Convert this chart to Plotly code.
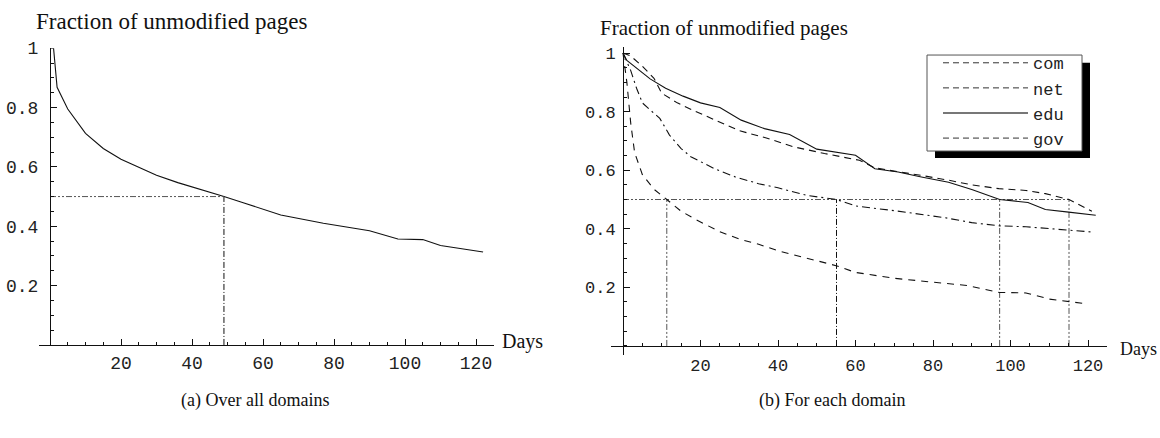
import plotly.graph_objects as go

W, H = 1160, 438

# ---------------- data ----------------
days_all = [0, 1, 2, 5, 10, 15, 20, 24, 30, 36, 44, 49, 54, 65, 77, 90, 98, 105, 110, 122]
frac_all = [1.0, 1.0, 0.868, 0.795, 0.713, 0.662, 0.626, 0.604, 0.572, 0.547, 0.519, 0.5,
            0.481, 0.438, 0.410, 0.385, 0.357, 0.355, 0.335, 0.313]
half_all = 49

com_days = [0, 1, 2, 3, 5, 8, 11.3, 15, 19, 25, 30, 35, 40, 45, 49, 55, 60, 65, 70, 76,
            83, 89, 97, 102, 104, 110, 115, 120]
com_frac = [1.0, 0.9, 0.76, 0.66, 0.585, 0.535, 0.5, 0.46, 0.43, 0.39, 0.365, 0.347, 0.325,
            0.308, 0.296, 0.274, 0.251, 0.242, 0.231, 0.223, 0.214, 0.206, 0.183, 0.180,
            0.181, 0.160, 0.152, 0.143]

net_days = [0, 2, 3.5, 5, 7, 9.5, 12, 15, 17.5, 20, 23.5, 29, 35, 40, 47.5, 55.1, 60, 70.5,
            79.5, 83, 90, 97.2, 104, 110, 115, 121]
net_frac = [1.0, 0.94, 0.88, 0.83, 0.806, 0.777, 0.72, 0.674, 0.646, 0.629, 0.606, 0.577,
            0.554, 0.54, 0.514, 0.5, 0.478, 0.461, 0.444, 0.438, 0.421, 0.41, 0.407, 0.401,
            0.396, 0.389]

edu_days = [0, 1, 7, 11, 15.5, 20, 25, 30.5, 36.5, 43, 50, 60, 65, 71, 77, 84, 90, 97.2,
            104.5, 109, 115, 122]
edu_frac = [1.0, 0.975, 0.912, 0.88, 0.853, 0.83, 0.814, 0.771, 0.742, 0.722, 0.672, 0.651,
            0.605, 0.594, 0.577, 0.559, 0.534, 0.5, 0.49, 0.466, 0.457, 0.446]

gov_days = [0, 2, 5, 8, 10, 14, 18, 24, 30, 37, 44, 52, 61, 65, 72, 78, 84, 90, 97, 104,
            109, 115.1, 121]
gov_frac = [1.0, 0.99, 0.955, 0.914, 0.863, 0.83, 0.805, 0.77, 0.735, 0.71, 0.68, 0.657,
            0.634, 0.608, 0.594, 0.58, 0.566, 0.55, 0.537, 0.531, 0.52, 0.5, 0.46]

domains = ["com", "net", "edu", "gov"]
half_days = [11.3, 55.1, 97.2, 115.1]

x_ticks = [20, 40, 60, 80, 100, 120]
y_ticks = [0.2, 0.4, 0.6, 0.8, 1.0]
y_labels = ["0.2", "0.4", "0.6", "0.8", "1"]

# ---------------- layout helpers (pixel geometry) ----------------
def fx(p):
    return p / W


def fy(p):
    return 1 - p / H


L0, LS = 50, 3.55      # left: px of day 0, px per day
LY0, LY1 = 343, 40     # left: px of value 0 and value 1
R0, RS = 623, 3.875    # right
RY0, RY1 = 344, 45
RYU = RY0 - RY1

MONO = "Liberation Mono"
SERIF = "Liberation Serif"
INK = "#111"
GREY = "#555"

fig = go.Figure()

line_w = 1.1

# ---- left panel ----
fig.add_trace(go.Scatter(x=days_all, y=frac_all, mode="lines", xaxis="x", yaxis="y",
                         line=dict(color=INK, width=line_w), showlegend=False,
                         cliponaxis=False))
fig.add_trace(go.Scatter(x=[0, half_all], y=[0.5, 0.5], mode="lines", xaxis="x", yaxis="y",
                         line=dict(color=GREY, width=1, dash="6px,2px,2px,2px,2px,2px"),
                         showlegend=False))
fig.add_trace(go.Scatter(x=[half_all, half_all], y=[0, 0.5], mode="lines", xaxis="x", yaxis="y",
                         line=dict(color=INK, width=1, dash="6px,2px,1px,2px"),
                         showlegend=False))

# ---- right panel ----
styles = {
    "com": dict(color=INK, width=line_w, dash="7px,6px"),
    "net": dict(color=INK, width=line_w, dash="8px,4px,2px,4px"),
    "edu": dict(color=INK, width=line_w),
    "gov": dict(color=INK, width=line_w, dash="7px,5px"),
}
series = {"com": (com_days, com_frac), "net": (net_days, net_frac),
          "edu": (edu_days, edu_frac), "gov": (gov_days, gov_frac)}

fig.add_trace(go.Scatter(x=[0, max(half_days)], y=[0.5, 0.5], mode="lines",
                         xaxis="x2", yaxis="y2",
                         line=dict(color=GREY, width=1, dash="6px,2px,2px,2px,2px,2px"),
                         showlegend=False))
vcolors = [GREY, INK, GREY, GREY]
vdash = ["6px,2px,2px,2px,2px,2px", "6px,2px,1px,2px",
         "6px,2px,2px,2px,2px,2px", "6px,2px,2px,2px,2px,2px"]
for d, c, ds in zip(half_days, vcolors, vdash):
    fig.add_trace(go.Scatter(x=[d, d], y=[0, 0.5], mode="lines", xaxis="x2", yaxis="y2",
                             line=dict(color=c, width=1, dash=ds), showlegend=False))

for name in domains:
    xs, ys = series[name]
    fig.add_trace(go.Scatter(x=xs, y=ys, mode="lines", xaxis="x2", yaxis="y2",
                             line=styles[name], showlegend=False, cliponaxis=False))

# legend-only entries (the legend draws all dashed keys alike)
legend_styles = {
    "com": dict(color="#333", width=1, dash="6px,4px"),
    "net": dict(color="#333", width=1, dash="6px,4px"),
    "edu": dict(color="#777", width=2),
    "gov": dict(color="#333", width=1, dash="6px,4px"),
}
for name in domains:
    fig.add_trace(go.Scatter(x=[None], y=[None], mode="lines", xaxis="x2", yaxis="y2",
                             name=name, line=legend_styles[name], showlegend=True))

axis_common = dict(showline=True, linecolor=INK, linewidth=1, showgrid=False,
                   zeroline=False, ticks="inside", tickcolor=INK, tickwidth=1)

fig.update_layout(
    width=W, height=H,
    margin=dict(l=0, r=0, t=0, b=0),
    paper_bgcolor="white", plot_bgcolor="white",
    showlegend=True,
    xaxis=dict(**axis_common, domain=[fx(L0 - 3 * LS), fx(L0 + 125 * LS)],
               range=[-3, 125], anchor="y", tickvals=x_ticks,
               ticktext=[str(v) for v in x_ticks], ticklen=6,
               minor=dict(dtick=5, tick0=0, ticks="inside", ticklen=3, tickcolor=INK),
               tickfont=dict(family=MONO, size=18, color="#222"), ticklabelstandoff=1),
    yaxis=dict(**axis_common, domain=[fy(LY0), fy(LY1)], range=[0, 1],
               anchor="free", position=fx(L0), tickvals=y_ticks, ticktext=y_labels,
               ticklen=6,
               minor=dict(dtick=0.05, tick0=0, ticks="inside", ticklen=3, tickcolor=INK),
               tickfont=dict(family=MONO, size=18, color="#222"), ticklabelstandoff=8),
    xaxis2=dict(**axis_common, domain=[fx(R0 - 3.2 * RS), fx(R0 + 125 * RS)],
                range=[-3.2, 125], anchor="free", position=fy(RY0), tickvals=x_ticks,
                ticktext=[str(v) for v in x_ticks], ticklen=6,
                minor=dict(dtick=5, tick0=0, ticks="inside", ticklen=3, tickcolor=INK),
                tickfont=dict(family=MONO, size=17, color="#222"), ticklabelstandoff=4),
    yaxis2=dict(**axis_common, domain=[fy(RY0 + 0.03 * RYU), fy(RY1 - 0.02 * RYU)],
                range=[-0.03, 1.02], anchor="free", position=fx(R0), tickvals=y_ticks,
                ticktext=y_labels, ticklen=6,
                minor=dict(dtick=0.05, tick0=0, ticks="inside", ticklen=3, tickcolor=INK),
                tickfont=dict(family=MONO, size=17, color="#222"), ticklabelstandoff=4),
    legend=dict(x=fx(938), y=fy(37), xanchor="left", yanchor="top",
                bgcolor="rgba(0,0,0,0)", borderwidth=0,
                font=dict(family=MONO, size=17, color="#222"),
                itemwidth=85, traceorder="normal"),
    shapes=[
        dict(type="rect", xref="paper", yref="paper",
             x0=fx(935), x1=fx(1090), y0=fy(152), y1=fy(55),
             fillcolor="black", line=dict(width=0), layer="above"),
        dict(type="rect", xref="paper", yref="paper",
             x0=fx(927), x1=fx(1082), y0=fy(145), y1=fy(47),
             fillcolor="white", line=dict(color="#555", width=1), layer="above"),
    ],
    annotations=[
        dict(text="Fraction of unmodified pages", xref="paper", yref="paper",
             x=fx(34), y=fy(13), xanchor="left", yanchor="middle", showarrow=False,
             font=dict(family=SERIF, size=23, color="#111")),
        dict(text="Days", xref="paper", yref="paper", x=fx(500), y=fy(339),
             xanchor="left", yanchor="middle", showarrow=False,
             font=dict(family=SERIF, size=20, color="#111")),
        dict(text="Fraction of unmodified pages", xref="paper", yref="paper",
             x=fx(598), y=fy(19), xanchor="left", yanchor="middle", showarrow=False,
             font=dict(family=SERIF, size=21, color="#111")),
        dict(text="Days", xref="paper", yref="paper", x=fx(1118), y=fy(347),
             xanchor="left", yanchor="middle", showarrow=False,
             font=dict(family=SERIF, size=18, color="#111")),
        dict(text="(a) Over all domains", xref="paper", yref="paper", x=fx(255), y=fy(400),
             xanchor="center", yanchor="middle", showarrow=False,
             font=dict(family=SERIF, size=18, color="#111")),
        dict(text="(b) For each domain", xref="paper", yref="paper", x=fx(832), y=fy(400),
             xanchor="center", yanchor="middle", showarrow=False,
             font=dict(family=SERIF, size=18, color="#111")),
    ],
)

fig.write_html("out.html")
